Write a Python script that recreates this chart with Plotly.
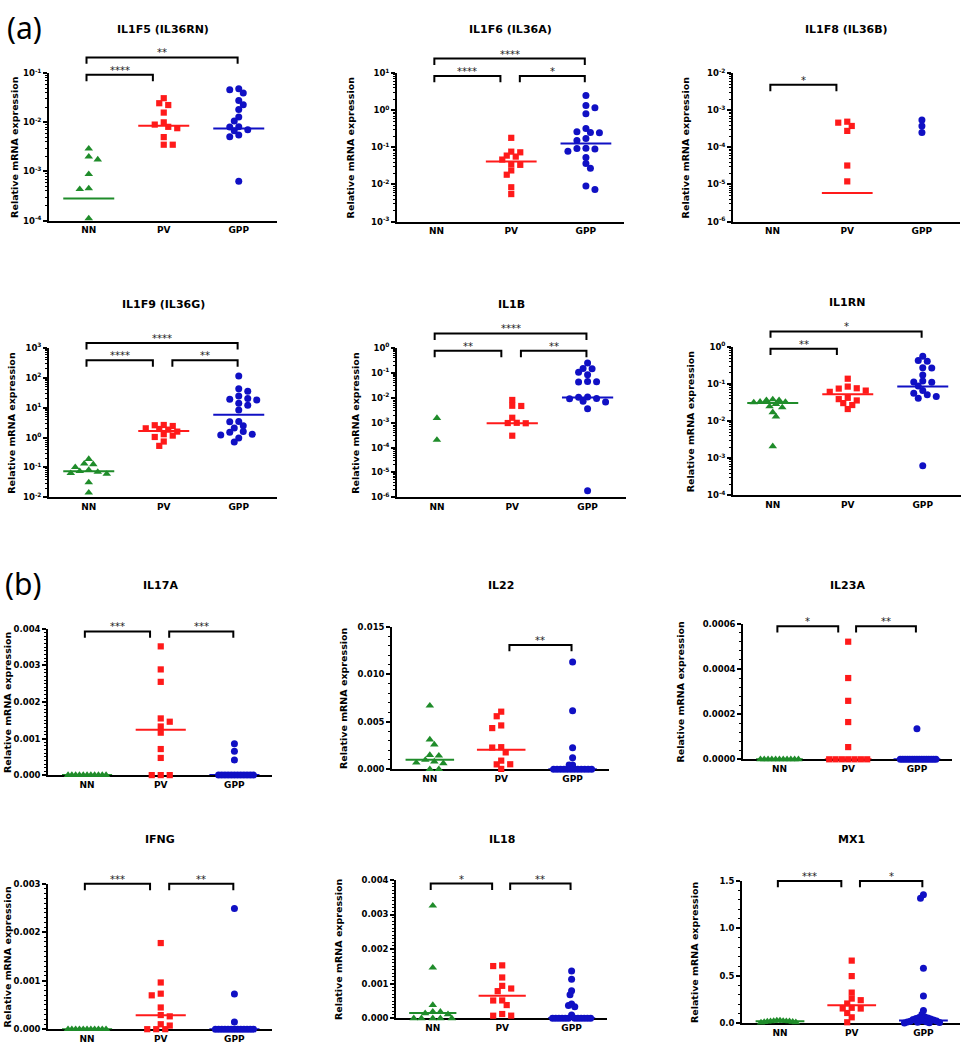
import math
import plotly.graph_objects as go

W, H = 962, 1050
GROUPS = ["NN", "PV", "GPP"]
COLORS = {"NN": "#1f8c2a", "PV": "#ff1a1a", "GPP": "#1010c4"}
SYMBOLS = {"NN": "triangle-up", "PV": "square", "GPP": "circle"}
SIZES = {"NN": 7.5, "PV": 6.2, "GPP": 7}
FONT = "DejaVu Sans"

# ---------------- data ----------------
IL1F5_NN = [2.9e-3, 2.0e-3, 1.75e-3, 8.8e-4, 4.5e-4, 4.35e-4, 1.1e-4]
IL1F5_PV = [3.1e-2, 2.45e-2, 2.25e-2, 1.58e-2, 1.0e-2, 9.0e-3, 8.1e-3, 7.6e-3, 5.0e-3, 3.5e-3, 3.5e-3]
IL1F5_GPP = [4.85e-2, 4.6e-2, 3.97e-2, 2.78e-2, 2.28e-2, 1.83e-2, 1.29e-2, 1.07e-2, 8.1e-3, 8.0e-3,
             7.1e-3, 6.7e-3, 5.5e-3, 5.1e-3, 6.3e-4]
IL1F5_MED = [2.8e-4, 8.5e-3, 7.5e-3]

IL1F6_NN = []
IL1F6_PV = [0.181, 0.0766, 0.0736, 0.060, 0.0564, 0.0469, 0.0352, 0.0338, 0.0239, 0.0183, 0.0084, 0.0055]
IL1F6_GPP = [2.49, 1.35, 1.17, 0.81, 0.321, 0.262, 0.251, 0.249, 0.174, 0.154, 0.094, 0.090, 0.093,
             0.078, 0.053, 0.0366, 0.0275, 0.0091, 0.0073]
IL1F6_MED = [None, 0.0415, 0.128]

IL1F8_NN = []
IL1F8_PV = [4.93e-4, 4.64e-4, 3.78e-4, 2.78e-4, 3.24e-5, 1.21e-5]
IL1F8_GPP = [5.47e-4, 3.78e-4, 2.51e-4]
IL1F8_MED = [None, 5.9e-6, None]

IL1F9_NN = [0.192, 0.134, 0.128, 0.102, 0.0828, 0.0748, 0.0711, 0.0642, 0.061, 0.0315, 0.0143]
IL1F9_PV = [2.65, 2.6, 2.45, 2.05, 1.95, 1.85, 1.59, 1.3, 1.17, 1.05, 0.74, 0.53]
IL1F9_GPP = [115, 43.6, 35.6, 24.9, 20.3, 19.3, 18.3, 14.2, 12.2, 8.5, 3.5, 3.4, 2.5, 2.1, 1.6,
             1.51, 1.3, 1.23, 0.98, 0.72]
IL1F9_MED = [0.075, 1.67, 5.8]

IL1B_NN = [1.53e-3, 2.03e-4]
IL1B_PV = [8.2e-3, 4.8e-3, 4.7e-3, 1.58e-3, 9.9e-4, 9.7e-4, 9.5e-4, 3.0e-4]
IL1B_GPP = [0.252, 0.150, 0.146, 0.107, 0.084, 0.0456, 0.0442, 0.0429, 0.0108, 0.0105, 0.0093,
            0.0092, 0.0073, 0.0068, 0.0036, 1.83e-6]
IL1B_MED = [None, 9.6e-4, 0.0104]

IL1RN_NN = [0.0386, 0.037, 0.0368, 0.0334, 0.0332, 0.0321, 0.029, 0.0251, 0.0236, 0.0174, 0.0133, 0.0021]
IL1RN_PV = [0.14, 0.0858, 0.0774, 0.0758, 0.067, 0.062, 0.0428, 0.0394, 0.0363, 0.0308, 0.0273, 0.0213]
IL1RN_GPP = [0.564, 0.432, 0.415, 0.275, 0.272, 0.176, 0.121, 0.114, 0.113, 0.0894, 0.0671, 0.057,
             0.0514, 0.0464, 0.0419, 6.3e-4]
IL1RN_MED = [0.031, 0.0536, 0.0858]

IL17A_NN = [0, 0, 0, 0, 0, 0, 0, 0, 0, 0, 0]
IL17A_PV = [0.00352, 0.00289, 0.00255, 0.00155, 0.00146, 0.00133, 0.00116, 0.000713, 0.00047, 0, 0, 0]
IL17A_GPP = [0.000858, 0.00065, 0.000415, 0, 0, 0, 0, 0, 0, 0, 0, 0, 0, 0, 0]
IL17A_MED = [0, 0.00124, 0]

IL22_NN = [0.00669, 0.00312, 0.0026, 0.00149, 0.00142, 0.00097, 0.0008, 0.00069, 0.00062, 0, 0]
IL22_PV = [0.00606, 0.00558, 0.00461, 0.00433, 0.00232, 0.00228, 0.00177, 0.0009, 0.00052, 0.00051, 0.00003]
IL22_GPP = [0.0113, 0.00617, 0.00225, 0.00121, 0.00045, 0.00044, 0, 0, 0, 0, 0, 0, 0, 0, 0, 0, 0, 0]
IL22_MED = [0.001, 0.00204, 0]

IL23A_NN = [0, 0, 0, 0, 0, 0, 0, 0, 0, 0, 0]
IL23A_PV = [0.000521, 0.00036, 0.000259, 0.000165, 0.0000541, 0, 0, 0, 0, 0, 0, 0]
IL23A_GPP = [0.000135, 0, 0, 0, 0, 0, 0, 0, 0, 0, 0, 0, 0, 0, 0, 0, 0]
IL23A_MED = [0, 0, 0]

IFNG_NN = [0, 0, 0, 0, 0, 0, 0, 0, 0, 0, 0]
IFNG_PV = [0.001778, 0.000964, 0.000733, 0.000699, 0.000448, 0.000292, 0.000265, 0.000102, 0.0000747, 0, 0, 0]
IFNG_GPP = [0.00249, 0.000726, 0.000149, 0, 0, 0, 0, 0, 0, 0, 0, 0, 0, 0, 0, 0]
IFNG_MED = [0, 0.000285, 0]

IL18_NN = [0.003254, 0.001464, 0.000383, 0.000191, 0.000189, 0.000144, 0.000115, 0, 0, 0, 0, 0]
IL18_PV = [0.00153, 0.00151, 0.00118, 0.000938, 0.000861, 0.000785, 0.000517, 0.000515, 0.000383,
           0.000124, 0.0000766, 0.000075]
IL18_GPP = [0.001368, 0.001129, 0.000794, 0.000679, 0.000411, 0.000373, 0.000335, 0.0000957,
            0, 0, 0, 0, 0, 0, 0, 0, 0, 0, 0, 0]
IL18_MED = [0.000153, 0.00065, 0]

MX1_NN = [0.03, 0.02, 0.025, 0.015, 0.022, 0.01, 0.028, 0.018, 0.012, 0.024, 0.02, 0.008]
MX1_PV = [0.66, 0.497, 0.323, 0.26, 0.243, 0.208, 0.163, 0.156, 0.155, 0.108, 0.0625, 0.0104]
MX1_GPP = [1.354, 1.316, 0.58, 0.288, 0.135, 0.094, 0.065, 0.06, 0.055, 0.05, 0.045, 0.04, 0.035,
           0.03, 0.025, 0.02, 0.015, 0.012, 0.01, 0.008, 0.005, 0.003]
MX1_MED = [0.021, 0.19, 0.028]

# ---------------- panel layout ----------------
R0, R1 = -0.53, 2.51
PANELS = [
    dict(gene="IL1F5 (IL36RN)", data=(IL1F5_NN, IL1F5_PV, IL1F5_GPP), med=IL1F5_MED, scale="log",
         yr=(-4, -1), box=(49, 277, 67, 216), ty=23, lab=34, bb=0.99,
         br=[(0, 1, 0, "****"), (0, 2, 1, "**")]),
    dict(gene="IL1F6 (IL36A)", data=(IL1F6_NN, IL1F6_PV, IL1F6_GPP), med=IL1F6_MED, scale="log",
         yr=(-3, 1), box=(397, 624, 67, 217), ty=23, lab=47, bb=0.982,
         br=[(0, 1, 0, "****"), (1, 2, 0, "*"), (0, 2, 1, "****")]),
    dict(gene="IL1F8 (IL36B)", data=(IL1F8_NN, IL1F8_PV, IL1F8_GPP), med=IL1F8_MED, scale="log",
         yr=(-6, -2), box=(733, 960, 67, 217), ty=23, lab=48, bb=0.922,
         br=[(0, 1, 0, "*")]),
    dict(gene="IL1F9 (IL36G)", data=(IL1F9_NN, IL1F9_PV, IL1F9_GPP), med=IL1F9_MED, scale="log",
         yr=(-2, 3), box=(49, 277, 345, 496), ty=301, lab=37, bb=0.918,
         br=[(0, 1, 0, "****"), (1, 2, 0, "**"), (0, 2, 1, "****")]),
    dict(gene="IL1B", data=(IL1B_NN, IL1B_PV, IL1B_GPP), med=IL1B_MED, scale="log",
         yr=(-6, 0), box=(397, 626, 345, 496), ty=301, lab=41, bb=0.982,
         br=[(0, 1, 0, "**"), (1, 2, 0, "**"), (0, 2, 1, "****")]),
    dict(gene="IL1RN", data=(IL1RN_NN, IL1RN_PV, IL1RN_GPP), med=IL1RN_MED, scale="log",
         yr=(-4, 0), box=(733, 961, 344, 494), ty=299, lab=43, bb=0.989,
         br=[(0, 1, 0, "**"), (0, 2, 1, "*")]),
    dict(gene="IL17A", data=(IL17A_NN, IL17A_PV, IL17A_GPP), med=IL17A_MED, scale="linear",
         yr=(0, 0.004), dt=0.001, mdt=0.0001, fmt=".3f", box=(48, 272, 629, 777), ty=585, lab=40, bb=0.982,
         br=[(0, 1, 0, "***"), (1, 2, 0, "***")]),
    dict(gene="IL22", data=(IL22_NN, IL22_PV, IL22_GPP), med=IL22_MED, scale="linear",
         yr=(0, 0.015), dt=0.005, mdt=0.001, fmt=".3f", box=(392, 609, 627, 771), ty=585, lab=49, bb=0.873,
         br=[(1, 2, 0, "**")]),
    dict(gene="IL23A", data=(IL23A_NN, IL23A_PV, IL23A_GPP), med=IL23A_MED, scale="linear",
         yr=(0, 0.0006), dt=0.0002, mdt=0.00004, fmt=".4f", box=(743, 952, 624, 761), ty=585, lab=62, bb=0.983,
         br=[(0, 1, 0, "*"), (1, 2, 0, "**")]),
    dict(gene="IFNG", data=(IFNG_NN, IFNG_PV, IFNG_GPP), med=IFNG_MED, scale="linear",
         yr=(0, 0.003), dt=0.001, mdt=0.0001, fmt=".3f", box=(48, 272, 887, 1034), ty=842, lab=40, bb=1.0,
         br=[(0, 1, 0, "***"), (1, 2, 0, "**")]),
    dict(gene="IL18", data=(IL18_NN, IL18_PV, IL18_GPP), med=IL18_MED, scale="linear",
         yr=(0, 0.004), dt=0.001, mdt=0.0001, fmt=".3f", box=(396, 607, 883, 1023), ty=842, lab=58, bb=0.974,
         br=[(0, 1, 0, "*"), (1, 2, 0, "**")]),
    dict(gene="MX1", data=(MX1_NN, MX1_PV, MX1_GPP), med=MX1_MED, scale="linear",
         yr=(0, 1.5), dt=0.5, mdt=0.1, fmt=".1f", box=(742, 960, 884, 1028), ty=842, lab=48, bb=1.0,
         br=[(0, 1, 0, "***"), (1, 2, 0, "*")]),
]

TIER = 17.5   # px between stacked brackets
TIP = 6.5     # px bracket tip length


def frac(v, p):
    lo, hi = p["yr"]
    if p["scale"] == "log":
        return (math.log10(v) - lo) / (hi - lo)
    return (v - lo) / (hi - lo)


def swarm(ys, step=4.5, diam=5.8, maxhalf=19.0):
    """Deterministic beeswarm offsets (px) for points at pixel heights ys."""
    order = sorted(range(len(ys)), key=lambda i: -ys[i])
    placed = []
    offs = [0.0] * len(ys)
    for n, i in enumerate(order):
        y = ys[i]
        cands = [0.0]
        for m in range(1, 80):
            a, b = m * step, -m * step
            cands += [a, b] if n % 2 == 0 else [b, a]
        for c in cands:
            if all((c - px) ** 2 + (y - py) ** 2 >= diam ** 2 for px, py in placed):
                offs[i] = c
                placed.append((c, y))
                break
    mx = max((abs(o) for o in offs), default=0)
    if mx > maxhalf:
        offs = [o * maxhalf / mx for o in offs]
    return offs


fig = go.Figure()
annotations = []
shapes = []
layout_axes = {}

for idx, p in enumerate(PANELS, start=1):
    sfx = "" if idx == 1 else str(idx)
    xid, yid = "x" + sfx, "y" + sfx
    x0, x1, yt, yb = p["box"]
    hpx = yb - yt
    sp = (x1 - x0) / (R1 - R0)

    for g, (name, vals) in enumerate(zip(GROUPS, p["data"])):
        if not vals:
            continue
        ypx = [frac(v, p) * hpx for v in vals]
        offs = swarm(ypx)
        fig.add_trace(go.Scatter(
            x=[g + o / sp for o in offs], y=vals, mode="markers",
            marker=dict(symbol=SYMBOLS[name], color=COLORS[name], size=SIZES[name], line=dict(width=0)),
            xaxis=xid, yaxis=yid, cliponaxis=False, showlegend=False, hoverinfo="skip"))
    for g, m in enumerate(p["med"]):
        if m is None:
            continue
        fig.add_trace(go.Scatter(
            x=[g - 0.34, g + 0.34], y=[m, m], mode="lines",
            line=dict(color=COLORS[GROUPS[g]], width=2),
            xaxis=xid, yaxis=yid, cliponaxis=False, showlegend=False, hoverinfo="skip"))

    tickfont = dict(family=FONT, size=8.5, color="black", weight="bold")
    layout_axes["xaxis" + sfx] = dict(
        domain=[x0 / W, min(x1 / W, 1.0)], range=[R0, R1], anchor=yid,
        tickmode="array", tickvals=[0, 1, 2], ticktext=GROUPS, ticks="",
        tickfont=dict(family=FONT, size=9, color="black", weight="bold"),
        showline=True, linecolor="black", linewidth=1.6, showgrid=False, zeroline=False,
        layer="below traces", fixedrange=True)
    ya = dict(domain=[1 - yb / H, 1 - yt / H], anchor=xid, showline=True, linecolor="black",
              linewidth=1.6, ticks="outside", ticklen=4, tickwidth=1.5, tickcolor="black",
              showgrid=False, zeroline=False, tickfont=tickfont, layer="below traces", fixedrange=True)
    lo, hi = p["yr"]
    if p["scale"] == "log":
        exps = list(range(lo, hi + 1))
        ya.update(type="log", range=[lo, hi], tickmode="array",
                  tickvals=[10.0 ** e for e in exps],
                  ticktext=["10<sup>%d</sup>" % e for e in exps],
                  minor=dict(ticks="outside", ticklen=2, tickwidth=1, tickcolor="black", showgrid=False,
                             tickmode="array",
                             tickvals=[k * 10.0 ** e for e in range(lo, hi) for k in range(2, 10)]))
    else:
        ya.update(type="linear", range=[lo, hi], tick0=0, dtick=p["dt"], tickformat=p["fmt"],
                  minor=dict(ticks="outside", ticklen=2, tickwidth=1, tickcolor="black", showgrid=False,
                             tick0=0, dtick=p["mdt"]))
    layout_axes["yaxis" + sfx] = ya

    # title
    annotations.append(dict(text=p["gene"], x=(x0 + x1) / 2 / W, y=1 - p["ty"] / H, xref="paper", yref="paper",
                            showarrow=False, xanchor="center", yanchor="middle",
                            font=dict(family=FONT, size=11, color="black", weight="bold")))
    # y-axis title
    annotations.append(dict(text="Relative mRNA expression", x=(x0 - p["lab"]) / W, y=1 - (yt + yb) / 2 / H,
                            xref="paper", yref="paper", showarrow=False, textangle=-90,
                            xanchor="center", yanchor="middle",
                            font=dict(family=FONT, size=9.5, color="black", weight="bold")))
    # significance brackets
    for (i, j, tier, lab) in p["br"]:
        lvl = p["bb"] + tier * TIER / hpx
        tip = TIP / hpx
        xl = (i + (-0.03 if i == 0 else 0.115) - R0) / (R1 - R0)
        xr = (j + (-0.145 if j == 1 else -0.015) - R0) / (R1 - R0)
        shapes.append(dict(type="path",
                           path="M%.4f,%.4f L%.4f,%.4f L%.4f,%.4f L%.4f,%.4f" % (xl, lvl - tip, xl, lvl, xr, lvl, xr, lvl - tip),
                           xref=xid + " domain", yref=yid + " domain",
                           line=dict(color="black", width=2)))
        annotations.append(dict(text=lab, x=(xl + xr) / 2, y=lvl, xref=xid + " domain", yref=yid + " domain",
                                showarrow=False, xanchor="center", yanchor="bottom", yshift=-3,
                                font=dict(family=FONT, size=10, color="#222222")))

annotations.append(dict(text="(a)", x=5 / W, y=1 + 2 / H, xref="paper", yref="paper", showarrow=False,
                        xanchor="left", yanchor="top", font=dict(family="Noto Sans", size=30, color="black")))
annotations.append(dict(text="(b)", x=3 / W, y=1 - 560 / H, xref="paper", yref="paper", showarrow=False,
                        xanchor="left", yanchor="top", font=dict(family="Noto Sans", size=30, color="black")))

fig.update_layout(width=W, height=H, margin=dict(l=0, r=0, t=0, b=0),
                  paper_bgcolor="white", plot_bgcolor="white", showlegend=False,
                  annotations=annotations, shapes=shapes, **layout_axes)

fig.write_html("out.html", config={"displayModeBar": False},
               post_script="document.body.style.margin='0';")
